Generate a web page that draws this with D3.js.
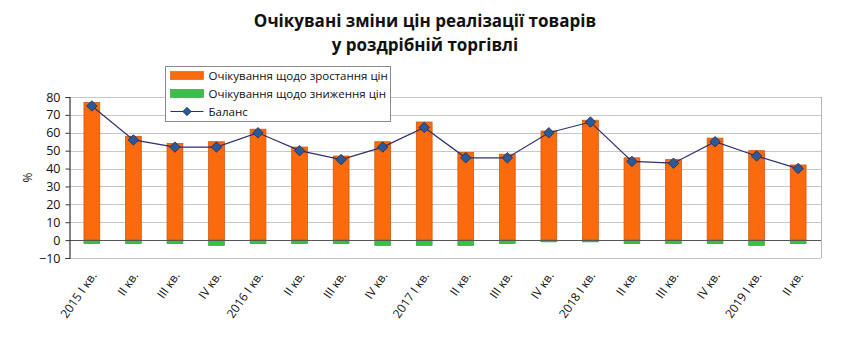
<!DOCTYPE html>
<html>
<head>
<meta charset="utf-8">
<script src="https://cdn.jsdelivr.net/npm/d3@7"></script>
<style>
  html, body { margin: 0; padding: 0; background: #fff; }
  svg { display: block; font-family: "Open Sans", "DejaVu Sans", sans-serif; }
</style>
</head>
<body>
<svg id="chart" width="850" height="350"></svg>
<script>
// Quarters
const categories = [
  "2015 I кв.", "II кв.", "III кв.", "IV кв.",
  "2016 I кв.", "II кв.", "III кв.", "IV кв.",
  "2017 I кв.", "II кв.", "III кв.", "IV кв.",
  "2018 I кв.", "II кв.", "III кв.", "IV кв.",
  "2019 I кв.", "II кв."
];
// Share expecting price growth, %
const increase = [77, 58, 54, 55, 62, 52, 47, 55, 66, 49, 48, 61, 67, 46, 45, 57, 50, 42];
// Share expecting price decline, % (drawn below zero)
const decrease = [-2, -2, -2, -3, -2, -2, -2, -3, -3, -3, -2, -1, -1, -2, -2, -2, -3, -2];
// Balance of expectations, %
const balance = [75, 56, 52, 52, 60, 50, 45, 52, 63, 46, 46, 60, 66, 44, 43, 55, 47, 40];
const yTicks = [-10, 0, 10, 20, 30, 40, 50, 60, 70, 80];
const titleLines = ["Очікувані зміни цін реалізації товарів", "у роздрібній торгівлі"];
const legendLabels = ["Очікування щодо зростання цін", "Очікування щодо зниження цін", "Баланс"];

const svg = d3.select("#chart");
const margin = { left: 69, right: 29, top: 97, bottom: 92 };
const W = 850, H = 350;

// Quarter labels repeat, so the band scale is keyed by position
const idx = d3.range(categories.length);
const x = d3.scaleBand().domain(idx)
  .range([margin.left, W - margin.right]).paddingInner(0.62).paddingOuter(0.36);
const y = d3.scaleLinear().domain([-10, 80]).range([H - margin.bottom, margin.top]);

const ORANGE = "#fb6a0c", ORANGE_EDGE = "#d2580e";
const GREEN = "#3cbf46", GREEN_EDGE = "#2f8f35";
const NAVY = "#2c2f6e", MARKER = "#2a5a9a";

// Title
svg.append("g").selectAll("text").data(titleLines).join("text")
  .attr("x", 425).attr("y", (d, i) => 27 + i * 24)
  .attr("text-anchor", "middle")
  .attr("font-size", 17).attr("font-weight", "bold").attr("fill", "#111")
  .text(d => d);

// Horizontal gridlines
svg.append("g").selectAll("line").data(yTicks.filter(t => t !== 0)).join("line")
  .attr("x1", margin.left).attr("x2", W - margin.right)
  .attr("y1", d => Math.round(y(d)) + 0.5).attr("y2", d => Math.round(y(d)) + 0.5)
  .attr("stroke", "#c8c8c8").attr("stroke-width", 1.2);

// Plot frame right edge
svg.append("line")
  .attr("x1", W - margin.right + 0.5).attr("x2", W - margin.right + 0.5)
  .attr("y1", y(80)).attr("y2", y(-10))
  .attr("stroke", "#b5b5b5");

// Bars: growth expectations
svg.append("g").selectAll("rect").data(increase).join("rect")
  .attr("x", (d, i) => x(i))
  .attr("width", x.bandwidth())
  .attr("y", d => y(d))
  .attr("height", d => y(0) - y(d))
  .attr("fill", ORANGE).attr("stroke", ORANGE_EDGE).attr("stroke-width", 0.8);

// Bars: decline expectations
svg.append("g").selectAll("rect").data(decrease).join("rect")
  .attr("x", (d, i) => x(i))
  .attr("width", x.bandwidth())
  .attr("y", y(0))
  .attr("height", d => y(d) - y(0))
  .attr("fill", GREEN).attr("stroke", GREEN_EDGE).attr("stroke-width", 0.6);

// Zero line
svg.append("line")
  .attr("x1", margin.left).attr("x2", W - margin.right)
  .attr("y1", Math.round(y(0)) + 0.5).attr("y2", Math.round(y(0)) + 0.5)
  .attr("stroke", "#555").attr("stroke-width", 1.2);

// Balance line with diamond markers
const cx = i => x(i) + x.bandwidth() / 2;
svg.append("path").datum(balance)
  .attr("d", d3.line().x((d, i) => cx(i)).y(d => y(d)))
  .attr("fill", "none").attr("stroke", NAVY).attr("stroke-width", 1.2);
svg.append("g").selectAll("path").data(balance).join("path")
  .attr("transform", (d, i) => `translate(${cx(i)},${y(d)})`)
  .attr("d", d3.symbol(d3.symbolDiamond2, 70)())
  .attr("fill", MARKER).attr("stroke", "#1b2d5a").attr("stroke-width", 0.8);

// Y axis
const yAxis = svg.append("g")
  .attr("transform", `translate(${margin.left + 0.5},0)`)
  .call(d3.axisLeft(y).tickValues(yTicks).tickSize(4).tickPadding(5));
yAxis.select(".domain").attr("stroke", "#333").attr("stroke-width", 1.2);
yAxis.selectAll(".tick line").attr("stroke", "#333");
yAxis.selectAll("text").attr("font-size", 12.5).attr("fill", "#111")
  .attr("font-family", "\"Open Sans\", sans-serif");

// Y axis title
svg.append("text")
  .attr("transform", `translate(32,${(y(80) + y(-10)) / 2}) rotate(-90)`)
  .attr("text-anchor", "middle").attr("font-size", 12).attr("fill", "#111")
  .text("%");

// X category labels, rotated
svg.append("g").selectAll("text").data(categories).join("text")
  .attr("transform", (d, i) => `translate(${cx(i) + 2},${y(-10) + 15}) rotate(-55)`)
  .attr("text-anchor", "end").attr("dy", "0.35em")
  .attr("font-size", 12).attr("fill", "#111")
  .text(d => d);

// Legend
const lg = svg.append("g").attr("transform", "translate(165.5,66.5)");
lg.append("rect").attr("width", 225).attr("height", 55)
  .attr("fill", "#fff").attr("stroke", "#8a8a8a");
const rowY = [9, 27, 45];
lg.append("rect").attr("x", 5).attr("y", rowY[0] - 4).attr("width", 33).attr("height", 8)
  .attr("fill", ORANGE).attr("stroke", ORANGE_EDGE).attr("stroke-width", 0.6);
lg.append("rect").attr("x", 5).attr("y", rowY[1] - 4).attr("width", 33).attr("height", 8)
  .attr("fill", GREEN).attr("stroke", GREEN_EDGE).attr("stroke-width", 0.6);
lg.append("line").attr("x1", 5).attr("x2", 38).attr("y1", rowY[2]).attr("y2", rowY[2])
  .attr("stroke", NAVY).attr("stroke-width", 1.2);
lg.append("path").attr("transform", `translate(21.5,${rowY[2]})`)
  .attr("d", d3.symbol(d3.symbolDiamond2, 45)())
  .attr("fill", MARKER).attr("stroke", "#1b2d5a").attr("stroke-width", 0.8);
lg.selectAll("text.lab").data(legendLabels).join("text").attr("class", "lab")
  .attr("x", 43).attr("y", (d, i) => rowY[i]).attr("dy", "0.35em")
  .attr("font-size", 11.5).attr("fill", "#111")
  .text(d => d);
</script>
</body>
</html>
